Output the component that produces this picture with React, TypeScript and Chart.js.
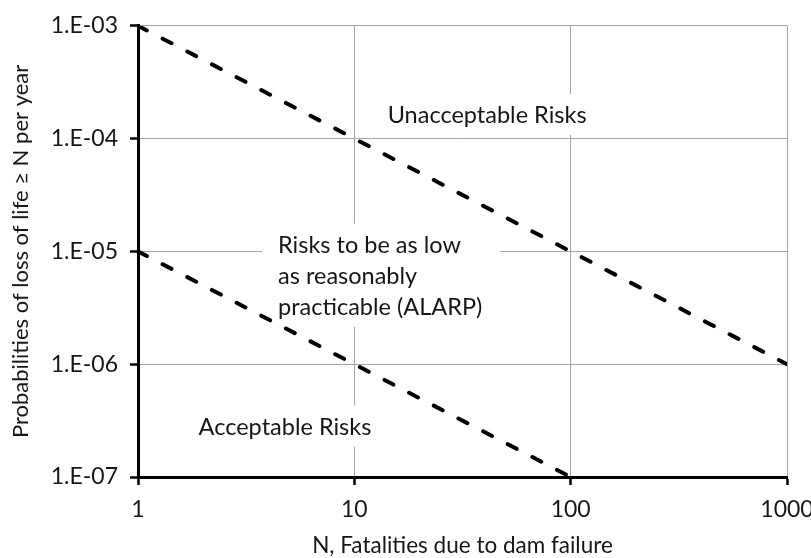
import React, { useEffect, useRef } from "react";
import { Chart, registerables } from "chart.js";

Chart.register(...registerables);

// ---- data ----
const xTicks = [1, 10, 100, 1000];
const xTickLabels = ["1", "10", "100", "1000"];
const yTicks = [1e-7, 1e-6, 1e-5, 1e-4, 1e-3];
const yTickLabels = ["1.E-07", "1.E-06", "1.E-05", "1.E-04", "1.E-03"];

const upperN = [1, 1000];
const upperP = [1e-3, 1e-6];
const lowerN = [1, 100];
const lowerP = [1e-5, 1e-7];

const labelTexts = [
  ["Unacceptable Risks"],
  ["Risks to be as low", "as reasonably", "practicable (ALARP)"],
  ["Acceptable Risks"],
];
const labelN = [41.1, 4.44, 4.78];
const labelP = [1.6e-4, 6.0e-6, 2.77e-7];
const labelAlign = ["center", "left", "center"];

const xTitle = "N, Fatalities due to dam failure";
const yTitle = "Probabilities of loss of life \u2265 N per year";

const FONT = "Lato, 'Open Sans', sans-serif";
const TEXT = "#161616";

const regionLabels = {
  id: "regionLabels",
  beforeDatasetsDraw(chart: any) {
    const { ctx, scales } = chart;
    const xs = scales.x;
    const ys = scales.y;
    ctx.save();
    ctx.font = `23.5px ${FONT}`;
    ctx.textBaseline = "middle";
    const lh = 31;
    labelTexts.forEach((lines, i) => {
      const px = xs.getPixelForValue(labelN[i]);
      const py = ys.getPixelForValue(labelP[i]);
      const widths = lines.map((l) => ctx.measureText(l).width);
      const maxW = Math.max(...widths);
      const totalH = lh * lines.length;
      const left = labelAlign[i] === "left" ? px : px - maxW / 2;
      const top = py - totalH / 2;
      ctx.fillStyle = "#ffffff";
      ctx.fillRect(left - 16, top - 6, maxW + 34, totalH + 10);
      ctx.fillStyle = TEXT;
      ctx.textAlign = "left";
      lines.forEach((l, j) => {
        ctx.fillText(l, left, top + lh * j + lh / 2);
      });
    });
    ctx.restore();
  },
};

export default function App() {
  const ref = useRef<HTMLCanvasElement>(null);
  useEffect(() => {
    if (!ref.current) return;
    const lineStyle = {
      borderColor: "#000000",
      borderWidth: 4,
      borderDash: [10, 17.8],
      borderCapStyle: "round",
      pointRadius: 0,
      fill: false,
    };
    const chart = new Chart(ref.current, {
      type: "line",
      data: {
        datasets: [
          { ...lineStyle, data: upperN.map((n, i) => ({ x: n, y: upperP[i] })) },
          { ...lineStyle, data: lowerN.map((n, i) => ({ x: n, y: lowerP[i] })) },
        ],
      },
      options: {
        animation: false,
        responsive: true,
        maintainAspectRatio: false,
        layout: { padding: { top: 25, right: 24, left: 0, bottom: 0 } },
        plugins: { legend: { display: false }, tooltip: { enabled: false } },
        scales: {
          x: {
            type: "logarithmic",
            min: 1,
            max: 1000,
            afterBuildTicks: (s: any) => {
              s.ticks = xTicks.map((v) => ({ value: v }));
            },
            afterFit: (s: any) => {
              s.height = 81;
              s.paddingRight = 0;
              s.paddingLeft = 0;
            },
            ticks: {
              font: { family: FONT, size: 23 },
              color: TEXT,
              padding: 11,
              maxRotation: 0,
              autoSkip: false,
              callback: (v: any) => xTickLabels[xTicks.indexOf(Number(v))] ?? "",
            },
            grid: {
              color: "#a4a4a4",
              lineWidth: 1,
              tickColor: "#000000",
              tickWidth: 2.5,
              tickLength: 8,
            },
            border: { display: true, color: "#000000", width: 3 },
            title: {
              display: true,
              text: xTitle,
              font: { family: FONT, size: 22.5, lineHeight: 1 },
              color: TEXT,
              padding: { top: 0, bottom: 1 },
            },
          },
          y: {
            type: "logarithmic",
            min: 1e-7,
            max: 1e-3,
            afterBuildTicks: (s: any) => {
              s.ticks = yTicks.map((v) => ({ value: v }));
            },
            afterFit: (s: any) => {
              s.width = 138;
            },
            ticks: {
              font: { family: FONT, size: 23 },
              color: TEXT,
              padding: 12,
              autoSkip: false,
              callback: (v: any) => {
                const idx = yTicks.findIndex((t) => Math.abs(Math.log10(t) - Math.log10(Number(v))) < 1e-6);
                return idx >= 0 ? yTickLabels[idx] : "";
              },
            },
            grid: {
              color: "#a4a4a4",
              lineWidth: 1,
              tickColor: "#000000",
              tickWidth: 2.5,
              tickLength: 8,
            },
            border: { display: true, color: "#000000", width: 3 },
            title: {
              display: true,
              text: yTitle,
              font: { family: FONT, size: 22, lineHeight: 1.2 },
              color: TEXT,
              padding: { top: 8, bottom: 0 },
            },
          },
        },
      } as any,
      plugins: [regionLabels],
    });
    return () => chart.destroy();
  }, []);
  return (
    <div style={{ position: "absolute", left: 0, top: 0, width: 811, height: 558 }}>
      <canvas ref={ref} />
    </div>
  );
}
